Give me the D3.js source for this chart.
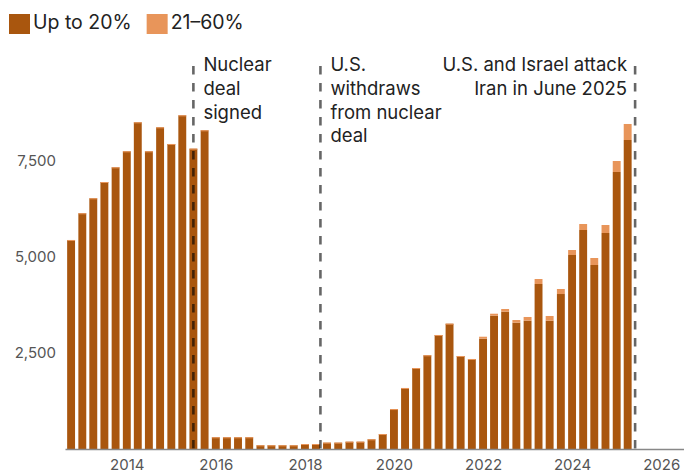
<!DOCTYPE html>
<html>
<head>
<meta charset="utf-8">
<script src="https://cdn.jsdelivr.net/npm/d3@7/dist/d3.min.js"></script>
<style>
  html, body { margin: 0; padding: 0; background: #fff; }
  svg { display: block; font-family: Inter, "Noto Sans", sans-serif; }
</style>
</head>
<body>
<svg id="chart" width="684" height="474"></svg>
<script>
// Quarterly stockpile of enriched uranium (kg), by enrichment level
const quarters = [
  "2012-10", "2013-01", "2013-04", "2013-07", "2013-10",
  "2014-01", "2014-04", "2014-07", "2014-10",
  "2015-01", "2015-04", "2015-07", "2015-10",
  "2016-01", "2016-04", "2016-07", "2016-10",
  "2017-01", "2017-04", "2017-07", "2017-10",
  "2018-01", "2018-04", "2018-07", "2018-10",
  "2019-01", "2019-04", "2019-07", "2019-10",
  "2020-01", "2020-04", "2020-07", "2020-10",
  "2021-01", "2021-04", "2021-07", "2021-10",
  "2022-01", "2022-04", "2022-07", "2022-10",
  "2023-01", "2023-04", "2023-07", "2023-10",
  "2024-01", "2024-04", "2024-07", "2024-10",
  "2025-01", "2025-04"
];
const upTo20 = [
  5443, 6138, 6528, 6953, 7335,
  7752, 8507, 7752, 8377,
  7943, 8689, 7821, 8299,
  305, 305, 305, 305,
  96, 96, 96, 96,
  130, 130, 165, 165,
  190, 190, 252, 390,
  1040, 1589, 2109, 2440,
  2969, 3263, 2422, 2344,
  2872, 3471, 3576, 3289,
  3341, 4297, 3341, 4036,
  5052, 5703, 4792, 5625,
  7214, 8047
];
const from21to60 = [
  0, 0, 0, 0, 0,
  0, 0, 0, 0,
  0, 0, 0, 0,
  0, 0, 0, 0,
  0, 0, 0, 0,
  0, 0, 0, 0,
  0, 0, 0, 0,
  0, 0, 0, 0,
  0, 0, 0, 0,
  52, 52, 70, 70,
  97, 130, 123, 131,
  130, 156, 182, 208,
  286, 417
];
const seriesNames = ["Up to 20%", "21–60%"];
const seriesColors = ["#a9560e", "#e8955a"];

const yTicks = [2500, 5000, 7500];
const xTickYears = [2014, 2016, 2018, 2020, 2022, 2024, 2026];

const eventDates = ["2015-07-01", "2018-05-08", "2025-06-01"];
const eventLabels = [
  ["Nuclear", "deal", "signed"],
  ["U.S.", "withdraws", "from nuclear", "deal"],
  ["U.S. and Israel attack", "Iran in June 2025"]
];

const svg = d3.select("#chart");
const W = 684;
const baseY = 449;

const parseQ = d3.timeParse("%Y-%m");
const parseD = d3.timeParse("%Y-%m-%d");

const rows = quarters.map((q, i) => ({
  date: parseQ(q),
  low: upTo20[i],
  high: from21to60[i]
}));

const x = d3.scaleTime()
  .domain([new Date(2012, 7, 12), new Date(2026, 6, 7)])
  .range([65, 684]);

const y = d3.scaleLinear()
  .domain([0, 10000])
  .range([baseY, baseY - 384]);

const barW = (x(parseQ("2014-04")) - x(parseQ("2014-01"))) * 0.72;

// Stacked bars
const stack = d3.stack().keys(["low", "high"])(rows);
const layers = svg.append("g").selectAll("g")
  .data(stack)
  .join("g")
  .attr("fill", (d, i) => seriesColors[i]);

layers.selectAll("rect")
  .data(d => d)
  .join("rect")
  .attr("x", d => x(d.data.date) - barW / 2)
  .attr("width", barW)
  .attr("y", d => y(d[1]))
  .attr("height", function (d) {
    const h = y(d[0]) - y(d[1]);
    // upper series always shows a thin cap on top of each bar
    return this.parentNode.__data__.key === "high" ? Math.max(1, h) : h;
  });

// Y axis labels
const yAxis = d3.axisLeft(y)
  .tickValues(yTicks)
  .tickFormat(d3.format(","))
  .tickSize(0)
  .tickPadding(9);
const gy = svg.append("g").attr("transform", "translate(65,0)").call(yAxis);
gy.select(".domain").remove();
gy.selectAll("text")
  .attr("fill", "#555")
  .style("font-size", "15px")
  .style("font-family", "Inter, sans-serif");

// Event markers
eventDates.forEach((ds, i) => {
  const ex = x(parseD(ds));
  svg.append("line")
    .attr("x1", ex).attr("x2", ex)
    .attr("y1", 66).attr("y2", baseY)
    .attr("stroke", "#000")
    .attr("stroke-opacity", 0.6)
    .attr("stroke-width", 2.6)
    .attr("stroke-dasharray", "8.5,8.5");
  const alignEnd = ex > W * 0.8;
  const tx = alignEnd ? ex - 8 : ex + 10;
  const t = svg.append("text")
    .attr("x", tx)
    .attr("y", 71)
    .attr("text-anchor", alignEnd ? "end" : "start")
    .attr("fill", "#222")
    .style("font-size", "18.5px");
  eventLabels[i].forEach((line, j) => {
    t.append("tspan")
      .attr("x", tx)
      .attr("dy", j === 0 ? 0 : 23.8)
      .text(line);
  });
});

// X axis
const xAxis = d3.axisBottom(x)
  .tickValues(xTickYears.map(yr => new Date(yr, 0, 1)))
  .tickFormat(d3.timeFormat("%Y"))
  .tickSize(0)
  .tickPadding(10);
const gx = svg.append("g").attr("transform", `translate(0,${baseY})`).call(xAxis);
gx.select(".domain").attr("stroke", "#888").attr("stroke-width", 1.6);
gx.selectAll("text")
  .attr("fill", "#555")
  .style("font-size", "15px")
  .style("font-family", "Inter, sans-serif");

// Legend
const legend = svg.append("g");
let lx = 9;
seriesNames.forEach((name, i) => {
  legend.append("rect")
    .attr("x", lx).attr("y", 14)
    .attr("width", 21).attr("height", 20)
    .attr("fill", seriesColors[i]);
  const txt = legend.append("text")
    .attr("x", lx + 24).attr("y", 28.5)
    .attr("fill", "#222")
    .style("font-size", "19.5px")
    .text(name);
  lx += 24 + txt.node().getComputedTextLength() + 15;
});
</script>
</body>
</html>
